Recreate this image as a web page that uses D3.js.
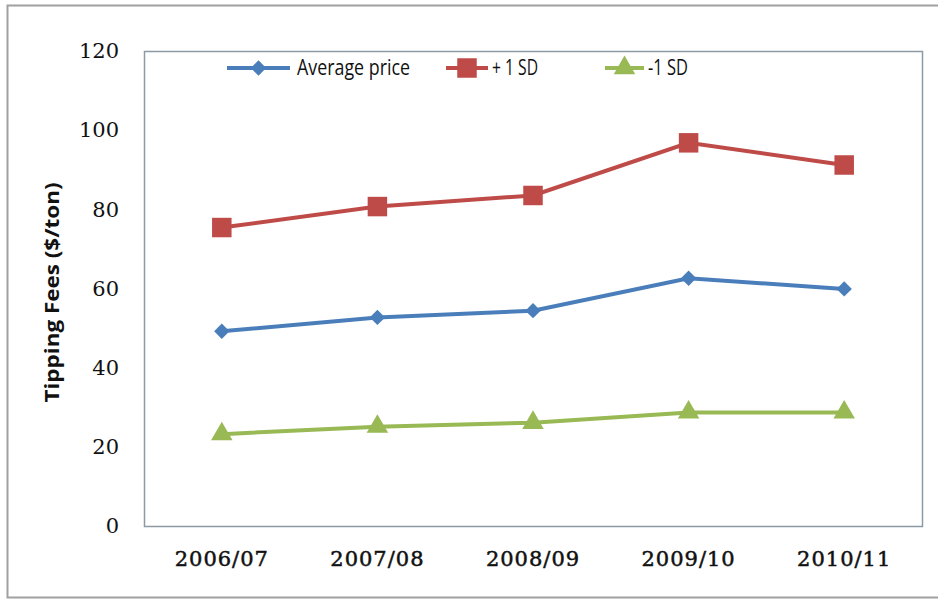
<!DOCTYPE html>
<html>
<head>
<meta charset="utf-8">
<script src="https://cdn.jsdelivr.net/npm/d3@7"></script>
<style>
  body { margin: 0; background: #fff; }
</style>
</head>
<body>
<div id="chart"></div>
<script>
// Data
const years = ["2006/07", "2007/08", "2008/09", "2009/10", "2010/11"];
const avgPrice = [49.2, 52.7, 54.4, 62.6, 59.9];
const plusSD = [75.4, 80.7, 83.5, 96.8, 91.2];
const minusSD = [23.2, 25.1, 26.1, 28.7, 28.7];
const yTicks = [0, 20, 40, 60, 80, 100, 120];

const series = [
  { name: "Average price", values: avgPrice, color: "#4a7ebb", marker: "diamond" },
  { name: "+ 1 SD", values: plusSD, color: "#be4b48", marker: "square" },
  { name: "-1 SD", values: minusSD, color: "#98b954", marker: "triangle" }
];

const W = 938, H = 599;
const plot = { left: 144, right: 922, top: 51, bottom: 526 };

const svg = d3.select("#chart").append("svg")
  .attr("width", W)
  .attr("height", H);

// outer frame (left, top, bottom)
svg.append("path")
  .attr("d", `M${W},5.5 H7.5 V597.5 H${W}`)
  .attr("fill", "none")
  .attr("stroke", "#a0a0a0")
  .attr("stroke-width", 2);

const x = d3.scaleBand().domain(years).range([plot.left, plot.right]);
const y = d3.scaleLinear().domain([0, 120]).range([plot.bottom, plot.top]);

// plot area border
svg.append("rect")
  .attr("x", plot.left + 0.5)
  .attr("y", plot.top + 0.5)
  .attr("width", plot.right - plot.left)
  .attr("height", plot.bottom - plot.top)
  .attr("fill", "none")
  .attr("stroke", "#8c9aa6")
  .attr("stroke-width", 1.5);

// y axis labels
const yAxis = svg.append("g")
  .attr("transform", `translate(${plot.left},0)`)
  .call(d3.axisLeft(y).tickValues(yTicks).tickSize(0).tickPadding(25));
yAxis.select(".domain").remove();
yAxis.selectAll("text")
  .attr("font-family", "DejaVu Serif")
  .attr("font-size", 21)
  .attr("fill", "#111");

// x axis labels
const xAxis = svg.append("g")
  .attr("transform", `translate(0,${plot.bottom})`)
  .call(d3.axisBottom(x).tickSize(0).tickPadding(25));
xAxis.select(".domain").remove();
xAxis.selectAll("text")
  .attr("font-family", "DejaVu Serif")
  .attr("font-size", 21)
  .attr("letter-spacing", 1)
  .attr("stroke", "#111")
  .attr("stroke-width", 0.5)
  .attr("fill", "#111");

// y title
svg.append("text")
  .attr("transform", `translate(59,${(plot.top + plot.bottom) / 2 + 4}) rotate(-90)`)
  .attr("text-anchor", "middle")
  .attr("font-family", "Open Sans")
  .attr("font-weight", "bold")
  .attr("font-size", 20)
  .attr("textLength", 220)
  .attr("lengthAdjust", "spacingAndGlyphs")
  .attr("fill", "#111")
  .text("Tipping Fees ($/ton)");

const line = d3.line()
  .x((d, i) => x(years[i]) + x.bandwidth() / 2)
  .y(d => y(d));

function markerPath(type) {
  if (type === "diamond") return d3.symbol(d3.symbolDiamond2, 150)();
  if (type === "square") return d3.symbol(d3.symbolSquare, 380)();
  return d3.symbol(d3.symbolTriangle, 200)();
}

series.forEach(s => {
  svg.append("path")
    .datum(s.values)
    .attr("fill", "none")
    .attr("stroke", s.color)
    .attr("stroke-width", 4)
    .attr("d", line);

  svg.selectAll(null)
    .data(s.values)
    .enter()
    .append("path")
    .attr("transform", (d, i) => `translate(${x(years[i]) + x.bandwidth() / 2},${y(d)})`)
    .attr("d", markerPath(s.marker))
    .attr("fill", s.color);
});

// legend
const legendPos = [
  { x1: 227, x2: 290, tx: 297, tw: 113 },
  { x1: 446, x2: 488, tx: 492, tw: 46 },
  { x1: 605, x2: 644, tx: 648, tw: 40 }
];
const legendY = 68;
series.forEach((s, i) => {
  const p = legendPos[i];
  const g = svg.append("g");
  g.append("line")
    .attr("x1", p.x1).attr("x2", p.x2)
    .attr("y1", legendY).attr("y2", legendY)
    .attr("stroke", s.color)
    .attr("stroke-width", 4);
  g.append("path")
    .attr("transform", `translate(${(p.x1 + p.x2) / 2},${legendY})`)
    .attr("d", markerPath(s.marker))
    .attr("fill", s.color);
  g.append("text")
    .attr("x", p.tx)
    .attr("y", legendY + 7)
    .attr("font-family", "Open Sans")
    .attr("font-size", 21)
    .attr("textLength", p.tw)
    .attr("lengthAdjust", "spacingAndGlyphs")
    .attr("fill", "#111")
    .text(s.name);
});
</script>
</body>
</html>
